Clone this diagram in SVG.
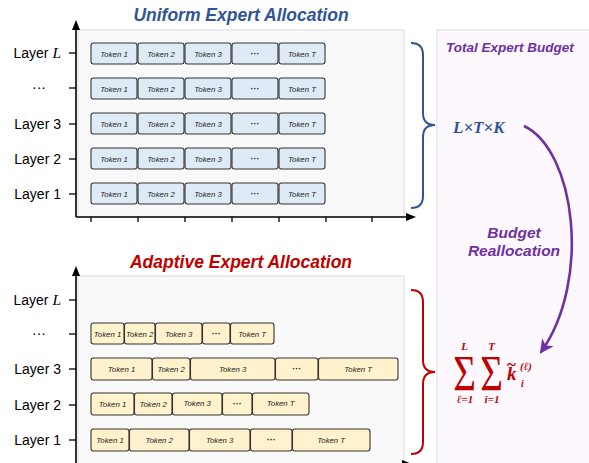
<svg xmlns="http://www.w3.org/2000/svg" width="589" height="463" viewBox="0 0 589 463">
<style>
.panel{fill:#f9f9f9;stroke:#dcdcdc;stroke-width:1}
.ax{stroke:#000;stroke-width:1.6;fill:none}
.tick{stroke:#000;stroke-width:1.3}
.lbl{font-family:"Liberation Sans",Arial,sans-serif;font-size:14px;fill:#000;text-anchor:end}
.lm{font-family:"Liberation Serif","DejaVu Serif",serif;font-style:italic;font-size:15.5px}
.tb{fill:#deebf7;stroke:#333;stroke-width:1.1}
.ta{fill:#fff2cc;stroke:#333;stroke-width:1.1}
.tt{font-family:"Liberation Sans",Arial,sans-serif;font-style:italic;font-size:7.8px;fill:#222;text-anchor:middle}
.dots{font-family:"Liberation Sans",Arial,sans-serif;font-weight:bold;font-size:9px;fill:#222;text-anchor:middle}
.title{font-family:"Liberation Sans",Arial,sans-serif;font-weight:bold;font-style:italic;font-size:17.5px;text-anchor:middle}
.math{font-family:"Liberation Serif","DejaVu Serif",serif;font-weight:bold;font-style:italic}
</style>
<defs>
<marker id="pa" markerWidth="16" markerHeight="16" refX="12" refY="8" orient="auto" markerUnits="userSpaceOnUse">
<path d="M0,1 L14,8 L0,15 L4,8 Z" fill="#7030a0"/>
</marker>
</defs>
<rect width="589" height="463" fill="#fff"/>

<g id="budget-panel">
<rect x="437" y="30" width="160" height="440" fill="#fcf8fd" stroke="#dcdcdc"/>
<text x="446" y="52" font-family="Liberation Sans,Arial,sans-serif" font-weight="bold" font-style="italic" font-size="13.5" fill="#7030a0">Total Expert Budget</text>
</g>

<g id="uniform">
<text class="title" x="241" y="21" fill="#2f5597">Uniform Expert Allocation</text>
<rect class="panel" x="78" y="30" width="326" height="187"/>
</g>

<g id="adaptive">
<text class="title" x="241" y="268" fill="#c00000">Adaptive Expert Allocation</text>
<rect class="panel" x="78" y="276" width="326" height="200"/>
</g>

<g id="axes">
<line class="ax" x1="76" y1="217" x2="76" y2="28"/>
<path d="M76,20 L72,30 L80,30 Z" fill="#000"/>
<line class="ax" x1="76" y1="217" x2="408" y2="217"/>
<path d="M416,217 L406,213 L406,221 Z" fill="#000"/>
<g class="tick">
<line x1="69" y1="53" x2="76" y2="53"/><line x1="69" y1="88" x2="76" y2="88"/><line x1="69" y1="124" x2="76" y2="124"/><line x1="69" y1="159" x2="76" y2="159"/><line x1="69" y1="194" x2="76" y2="194"/>
<line x1="91" y1="217" x2="91" y2="222"/><line x1="138" y1="217" x2="138" y2="222"/><line x1="185" y1="217" x2="185" y2="222"/><line x1="232" y1="217" x2="232" y2="222"/><line x1="279" y1="217" x2="279" y2="222"/><line x1="326" y1="217" x2="326" y2="222"/><line x1="372" y1="217" x2="372" y2="222"/>
</g>
<line class="ax" x1="76" y1="470" x2="76" y2="274"/>
<path d="M76,266 L72,276 L80,276 Z" fill="#000"/>
<line class="ax" x1="76" y1="464" x2="404" y2="464"/>
<path d="M412,464 L402,460 L402,468 Z" fill="#000"/>
<g class="tick">
<line x1="69" y1="300" x2="76" y2="300"/><line x1="69" y1="334" x2="76" y2="334"/><line x1="69" y1="369" x2="76" y2="369"/><line x1="69" y1="405" x2="76" y2="405"/><line x1="69" y1="440" x2="76" y2="440"/>
</g>
</g>

<g id="ylabels">
<text class="lbl" x="61" y="58">Layer <tspan class="lm">L</tspan></text>
<text class="lbl" x="46" y="92">···</text>
<text class="lbl" x="61" y="129">Layer 3</text>
<text class="lbl" x="61" y="164">Layer 2</text>
<text class="lbl" x="61" y="199">Layer 1</text>
<text class="lbl" x="61" y="305">Layer <tspan class="lm">L</tspan></text>
<text class="lbl" x="46" y="338">···</text>
<text class="lbl" x="61" y="374">Layer 3</text>
<text class="lbl" x="61" y="410">Layer 2</text>
<text class="lbl" x="61" y="445">Layer 1</text>
</g>

<g id="uniform-rows">
<g id="u-row-L" transform="translate(0,43)">
<rect class="tb" x="91" y="0" width="46" height="21" rx="2.5"/><rect class="tb" x="138" y="0" width="46" height="21" rx="2.5"/><rect class="tb" x="185" y="0" width="46" height="21" rx="2.5"/><rect class="tb" x="232" y="0" width="46" height="21" rx="2.5"/><rect class="tb" x="279" y="0" width="46" height="21" rx="2.5"/>
<text class="tt" x="114" y="13.5">Token 1</text><text class="tt" x="161" y="13.5">Token 2</text><text class="tt" x="208" y="13.5">Token 3</text><text class="dots" x="255" y="13.5">···</text><text class="tt" x="302" y="13.5">Token T</text>
</g>
<g id="u-row-dots" transform="translate(0,78)">
<rect class="tb" x="91" y="0" width="46" height="21" rx="2.5"/><rect class="tb" x="138" y="0" width="46" height="21" rx="2.5"/><rect class="tb" x="185" y="0" width="46" height="21" rx="2.5"/><rect class="tb" x="232" y="0" width="46" height="21" rx="2.5"/><rect class="tb" x="279" y="0" width="46" height="21" rx="2.5"/>
<text class="tt" x="114" y="13.5">Token 1</text><text class="tt" x="161" y="13.5">Token 2</text><text class="tt" x="208" y="13.5">Token 3</text><text class="dots" x="255" y="13.5">···</text><text class="tt" x="302" y="13.5">Token T</text>
</g>
<g id="u-row-3" transform="translate(0,113)">
<rect class="tb" x="91" y="0" width="46" height="21" rx="2.5"/><rect class="tb" x="138" y="0" width="46" height="21" rx="2.5"/><rect class="tb" x="185" y="0" width="46" height="21" rx="2.5"/><rect class="tb" x="232" y="0" width="46" height="21" rx="2.5"/><rect class="tb" x="279" y="0" width="46" height="21" rx="2.5"/>
<text class="tt" x="114" y="13.5">Token 1</text><text class="tt" x="161" y="13.5">Token 2</text><text class="tt" x="208" y="13.5">Token 3</text><text class="dots" x="255" y="13.5">···</text><text class="tt" x="302" y="13.5">Token T</text>
</g>
<g id="u-row-2" transform="translate(0,148)">
<rect class="tb" x="91" y="0" width="46" height="21" rx="2.5"/><rect class="tb" x="138" y="0" width="46" height="21" rx="2.5"/><rect class="tb" x="185" y="0" width="46" height="21" rx="2.5"/><rect class="tb" x="232" y="0" width="46" height="21" rx="2.5"/><rect class="tb" x="279" y="0" width="46" height="21" rx="2.5"/>
<text class="tt" x="114" y="13.5">Token 1</text><text class="tt" x="161" y="13.5">Token 2</text><text class="tt" x="208" y="13.5">Token 3</text><text class="dots" x="255" y="13.5">···</text><text class="tt" x="302" y="13.5">Token T</text>
</g>
<g id="u-row-1" transform="translate(0,183)">
<rect class="tb" x="91" y="0" width="46" height="21" rx="2.5"/><rect class="tb" x="138" y="0" width="46" height="21" rx="2.5"/><rect class="tb" x="185" y="0" width="46" height="21" rx="2.5"/><rect class="tb" x="232" y="0" width="46" height="21" rx="2.5"/><rect class="tb" x="279" y="0" width="46" height="21" rx="2.5"/>
<text class="tt" x="114" y="13.5">Token 1</text><text class="tt" x="161" y="13.5">Token 2</text><text class="tt" x="208" y="13.5">Token 3</text><text class="dots" x="255" y="13.5">···</text><text class="tt" x="302" y="13.5">Token T</text>
</g>
</g>

<g id="adaptive-rows">
<g id="a-row-dots" transform="translate(0,323)">
<rect class="ta" x="91" y="0" width="33" height="21" rx="2.5"/><rect class="ta" x="124.5" y="0" width="30.5" height="21" rx="2.5"/><rect class="ta" x="155.5" y="0" width="46.5" height="21" rx="2.5"/><rect class="ta" x="202.5" y="0" width="27.5" height="21" rx="2.5"/><rect class="ta" x="230.5" y="0" width="43.5" height="21" rx="2.5"/>
<text class="tt" x="107.5" y="13.5">Token 1</text><text class="tt" x="139.7" y="13.5">Token 2</text><text class="tt" x="178.7" y="13.5">Token 3</text><text class="dots" x="216.2" y="13.5">···</text><text class="tt" x="252.2" y="13.5">Token T</text>
</g>
<g id="a-row-3" transform="translate(0,358)">
<rect class="ta" x="91" y="0" width="61" height="22" rx="2.5"/><rect class="ta" x="152.5" y="0" width="37.5" height="22" rx="2.5"/><rect class="ta" x="190.5" y="0" width="84.5" height="22" rx="2.5"/><rect class="ta" x="275.5" y="0" width="42.5" height="22" rx="2.5"/><rect class="ta" x="318.5" y="0" width="79.5" height="22" rx="2.5"/>
<text class="tt" x="121.5" y="13.5">Token 1</text><text class="tt" x="171.2" y="13.5">Token 2</text><text class="tt" x="232.7" y="13.5">Token 3</text><text class="dots" x="296.7" y="13.5">···</text><text class="tt" x="358.2" y="13.5">Token T</text>
</g>
<g id="a-row-2" transform="translate(0,393)">
<rect class="ta" x="91" y="0" width="43" height="22" rx="2.5"/><rect class="ta" x="134.5" y="0" width="37.5" height="22" rx="2.5"/><rect class="ta" x="172.5" y="0" width="49.5" height="22" rx="2.5"/><rect class="ta" x="222.5" y="0" width="29.5" height="22" rx="2.5"/><rect class="ta" x="252.5" y="0" width="56.5" height="22" rx="2.5"/>
<text class="tt" x="112.5" y="14">Token 1</text><text class="tt" x="153.2" y="14">Token 2</text><text class="tt" x="197.2" y="12.5">Token 3</text><text class="dots" x="237.2" y="14">···</text><text class="tt" x="280.7" y="12.5">Token T</text>
</g>
<g id="a-row-1" transform="translate(0,429)">
<rect class="ta" x="91" y="0" width="38" height="22" rx="2.5"/><rect class="ta" x="129.5" y="0" width="59.5" height="22" rx="2.5"/><rect class="ta" x="189.5" y="0" width="60.5" height="22" rx="2.5"/><rect class="ta" x="250.5" y="0" width="41.5" height="22" rx="2.5"/><rect class="ta" x="292.5" y="0" width="77.5" height="22" rx="2.5"/>
<text class="tt" x="110" y="13.5">Token 1</text><text class="tt" x="159.2" y="13.5">Token 2</text><text class="tt" x="219.7" y="13.5">Token 3</text><text class="dots" x="271.2" y="13.5">···</text><text class="tt" x="331.2" y="13.5">Token T</text>
</g>
</g>

<g id="connectors" fill="none">
<path id="brace-uniform" d="M411,43 Q423,43 423,55 L423,113 Q423,125 435,125 Q423,125 423,137 L423,196 Q423,208 411,208" stroke="#2f5597" stroke-width="2"/>
<path id="brace-adaptive" d="M411,290 Q423,290 423,302 L423,360 Q423,372 435,372 Q423,372 423,384 L423,442 Q423,454 411,454" stroke="#c00000" stroke-width="2"/>
<path id="realloc-arrow" d="M524,126 C575,150 592,280 541,352" stroke="#7030a0" stroke-width="2.6" marker-end="url(#pa)"/>
</g>

<g id="budget-formula">
<text class="math" x="453" y="133" font-size="17" fill="#2f5597">L×T×K</text>
</g>

<g id="realloc-label" font-family="Liberation Sans,Arial,sans-serif" font-weight="bold" font-style="italic" font-size="15.5" fill="#7030a0" text-anchor="middle">
<text x="514" y="238">Budget</text>
<text x="514" y="256">Reallocation</text>
</g>

<g id="adaptive-formula" fill="#c00000" class="math">
<text transform="translate(464.5,390) scale(0.78,1)" font-size="50" font-style="normal" font-weight="normal" text-anchor="middle">Σ</text>
<text transform="translate(491.5,390) scale(0.78,1)" font-size="50" font-style="normal" font-weight="normal" text-anchor="middle">Σ</text>
<text x="464.5" y="350" font-size="11" text-anchor="middle">L</text>
<text x="491.5" y="350" font-size="11" text-anchor="middle">T</text>
<text x="465" y="403" font-size="11" text-anchor="middle">ℓ=1</text>
<text x="492" y="403" font-size="11" text-anchor="middle">i=1</text>
<text x="507" y="380" font-size="19">k</text>
<text x="507" y="370" font-size="17" font-style="normal" font-weight="bold">~</text>
<text x="521" y="387" font-size="10">i</text>
<text x="520" y="370" font-size="11">(ℓ)</text>
</g>
</svg>
